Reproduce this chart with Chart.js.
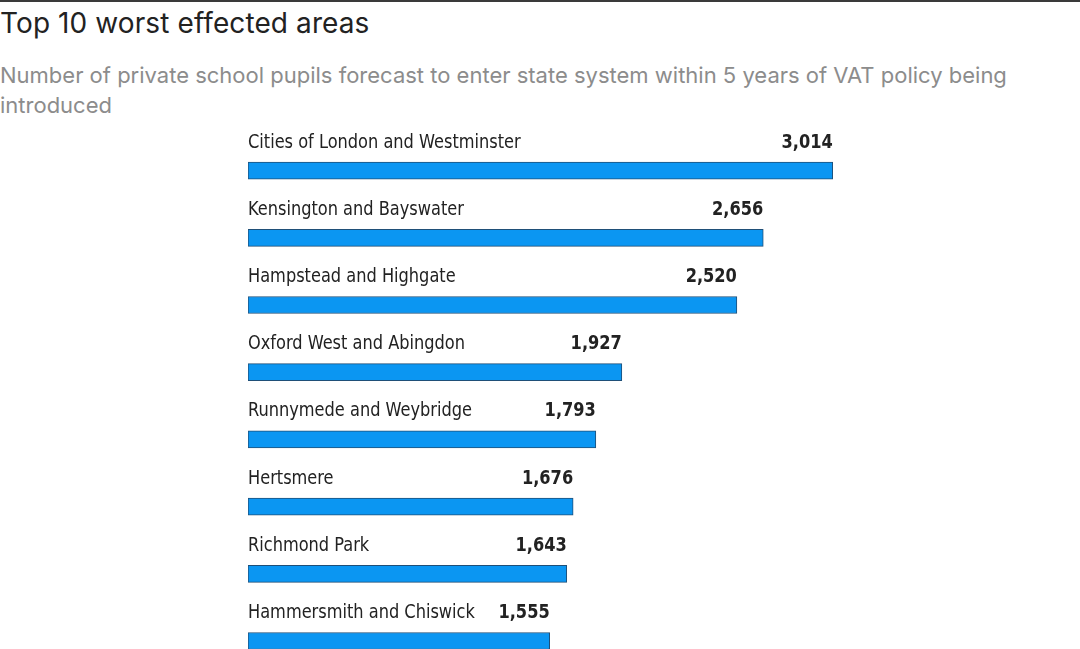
<!DOCTYPE html>
<html>
<head>
<meta charset="utf-8">
<script src="https://cdn.jsdelivr.net/npm/chart.js@4.4.1/dist/chart.umd.min.js"></script>
<style>
    html, body { margin: 0; padding: 0; background: #fff; width: 1080px; height: 649px; overflow: hidden; }
    .rule { position: absolute; left: 0; top: 0; width: 1080px; height: 2px; background: #3a3a3a; }
    h1 { position: absolute; left: 0; top: 6px; margin: 0; font: 400 28px Inter, "Open Sans", sans-serif; color: #222; letter-spacing: 0.1px; }
    .sub { position: absolute; left: 0; top: 60px; width: 1060px; margin: 0; font: 400 22px Inter, "Open Sans", sans-serif; line-height: 30px; color: #8c8c8c; }
    #wrap { position: absolute; left: 0; top: 0; width: 1080px; height: 820px; }
</style>
</head>
<body>
<div class="rule"></div>
<h1>Top 10 worst effected areas</h1>
<p class="sub">Number of private school pupils forecast to enter state system within 5 years of VAT policy being introduced</p>
<div id="wrap"><canvas id="chart"></canvas></div>
<script>
const areas = [
    'Cities of London and Westminster',
    'Kensington and Bayswater',
    'Hampstead and Highgate',
    'Oxford West and Abingdon',
    'Runnymede and Weybridge',
    'Hertsmere',
    'Richmond Park',
    'Hammersmith and Chiswick',
    'Battersea',
    'Sevenoaks',
];
const pupils = [3014, 2656, 2520, 1927, 1793, 1676, 1643, 1555, 1480, 1420];

const LABEL_FONT = '"DejaVu Sans Condensed", "Roboto", sans-serif';
const SQUEEZE = 0.9; // labels in the original are a narrow face

const rowLabels = {
    id: 'rowLabels',
    afterDatasetsDraw(chart) {
        const { ctx } = chart;
        const meta = chart.getDatasetMeta(0);
        const x0 = chart.scales.x.getPixelForValue(0);
        ctx.save();
        ctx.textBaseline = 'alphabetic';
        meta.data.forEach((bar, i) => {
            const base = bar.y - 23;
            ctx.save();
            ctx.scale(SQUEEZE, 1);
            ctx.fillStyle = '#222';
            ctx.font = `400 20px ${LABEL_FONT}`;
            ctx.textAlign = 'left';
            ctx.fillText(areas[i], x0 / SQUEEZE, base);
            ctx.font = `700 20px ${LABEL_FONT}`;
            ctx.textAlign = 'right';
            ctx.fillText(pupils[i].toLocaleString('en-GB'), bar.x / SQUEEZE, base);
            ctx.restore();
        });
        ctx.restore();
    },
};

new Chart(document.getElementById('chart'), {
    type: 'bar',
    data: {
        labels: areas,
        datasets: [{
            data: pupils,
            backgroundColor: '#0b96f2',
            borderColor: '#1f4f78',
            borderWidth: 1,
            borderSkipped: false,
            barThickness: 17,
        }],
    },
    options: {
        indexAxis: 'y',
        responsive: true,
        maintainAspectRatio: false,
        animation: false,
        layout: { padding: { left: 248, right: 56, top: 137, bottom: 11 } },
        scales: {
            x: { display: false, min: 0, max: 4000 },
            y: { display: false },
        },
        plugins: { legend: { display: false }, tooltip: { enabled: false } },
    },
    plugins: [rowLabels],
});
</script>
</body>
</html>
